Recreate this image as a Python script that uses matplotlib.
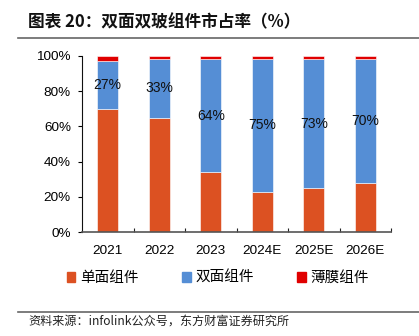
import matplotlib
matplotlib.use('Agg')
import matplotlib.pyplot as plt
from matplotlib.patches import Patch
from matplotlib.lines import Line2D
import numpy as np

plt.rcParams['font.family'] = ['Liberation Sans', 'Noto Sans CJK SC', 'DejaVu Sans']

years = ['2021', '2022', '2023', '2024E', '2025E', '2026E']
mono = [70, 65, 34, 23, 25, 28]        # 单面组件
bifacial = [27, 33, 64, 75, 73, 70]    # 双面组件
thin = [3, 2, 2, 2, 2, 2]              # 薄膜组件
labels = ['27%', '33%', '64%', '75%', '73%', '70%']

c_mono = '#DC5122'
c_bi = '#558ED5'
c_thin = '#E00000'

fig = plt.figure(figsize=(4.19, 3.36), dpi=100)
ax = fig.add_axes([0.1957, 0.3086, 0.7375, 0.5256])

x = np.arange(len(years))
w = 0.41
mono_a = np.array(mono)
bi_a = np.array(bifacial)
ax.bar(x, mono_a, w, color=c_mono, edgecolor='white', linewidth=0.4)
ax.bar(x, bi_a, w, bottom=mono_a, color=c_bi, edgecolor='white', linewidth=0.4)
ax.bar(x, thin, w, bottom=mono_a + bi_a, color=c_thin, edgecolor='white', linewidth=0.4)

for i, lab in enumerate(labels):
    ax.text(x[i], mono_a[i] + bi_a[i] / 2, lab, ha='center', va='center',
            fontsize=10, color='#111111')

ax.set_xlim(-0.5, len(years) - 0.5)
ax.set_ylim(0, 100)
ax.set_yticks(np.arange(0, 101, 20))
ax.set_yticklabels([f'{v}%' for v in range(0, 101, 20)])
ax.set_xticks(x)
ax.set_xticklabels(years)
ax.set_xticks(np.arange(0.5, len(years), 1), minor=True)
ax.tick_params(axis='x', which='major', length=0, pad=9, labelsize=9.7)
ax.tick_params(axis='x', which='minor', direction='in', length=3, width=0.8, color='#222222')
ax.tick_params(axis='y', direction='out', length=3, width=0.8, pad=5, labelsize=9.7)
for s in ['top', 'right']:
    ax.spines[s].set_visible(False)
ax.spines['left'].set_color('#111111')
ax.spines['left'].set_linewidth(0.8)
ax.spines['bottom'].set_color('#555555')
ax.spines['bottom'].set_linewidth(1.2)

handles = [Patch(color=c_mono, label='单面组件'),
           Patch(color=c_bi, label='双面组件'),
           Patch(color=c_thin, label='薄膜组件')]
fig.legend(handles=handles, loc='center', bbox_to_anchor=(0.52, 0.172), ncol=3,
           frameon=False, handlelength=0.6, handleheight=0.6,
           handletextpad=0.3, columnspacing=3.0,
           prop={'family': ['Noto Sans CJK SC'], 'size': 10.5})

fig.text(0.067, 0.934, '图表 20：双面双玻组件市占率（%）', fontsize=12, fontweight='bold',
         va='center', ha='left', family=['Noto Sans CJK SC'], color='#111111')
fig.add_artist(Line2D([0.043, 1.0], [0.887, 0.887], transform=fig.transFigure,
                      color='#666666', linewidth=1.2))
fig.add_artist(Line2D([0.043, 1.0], [0.0714, 0.0714], transform=fig.transFigure,
                      color='#666666', linewidth=1.2))
fig.text(0.067, 0.045, '资料来源：infolink公众号，东方财富证券研究所', fontsize=8.7,
         va='center', ha='left', family=['Noto Sans CJK SC'], color='#222222')

fig.savefig('out.png', dpi=100)
